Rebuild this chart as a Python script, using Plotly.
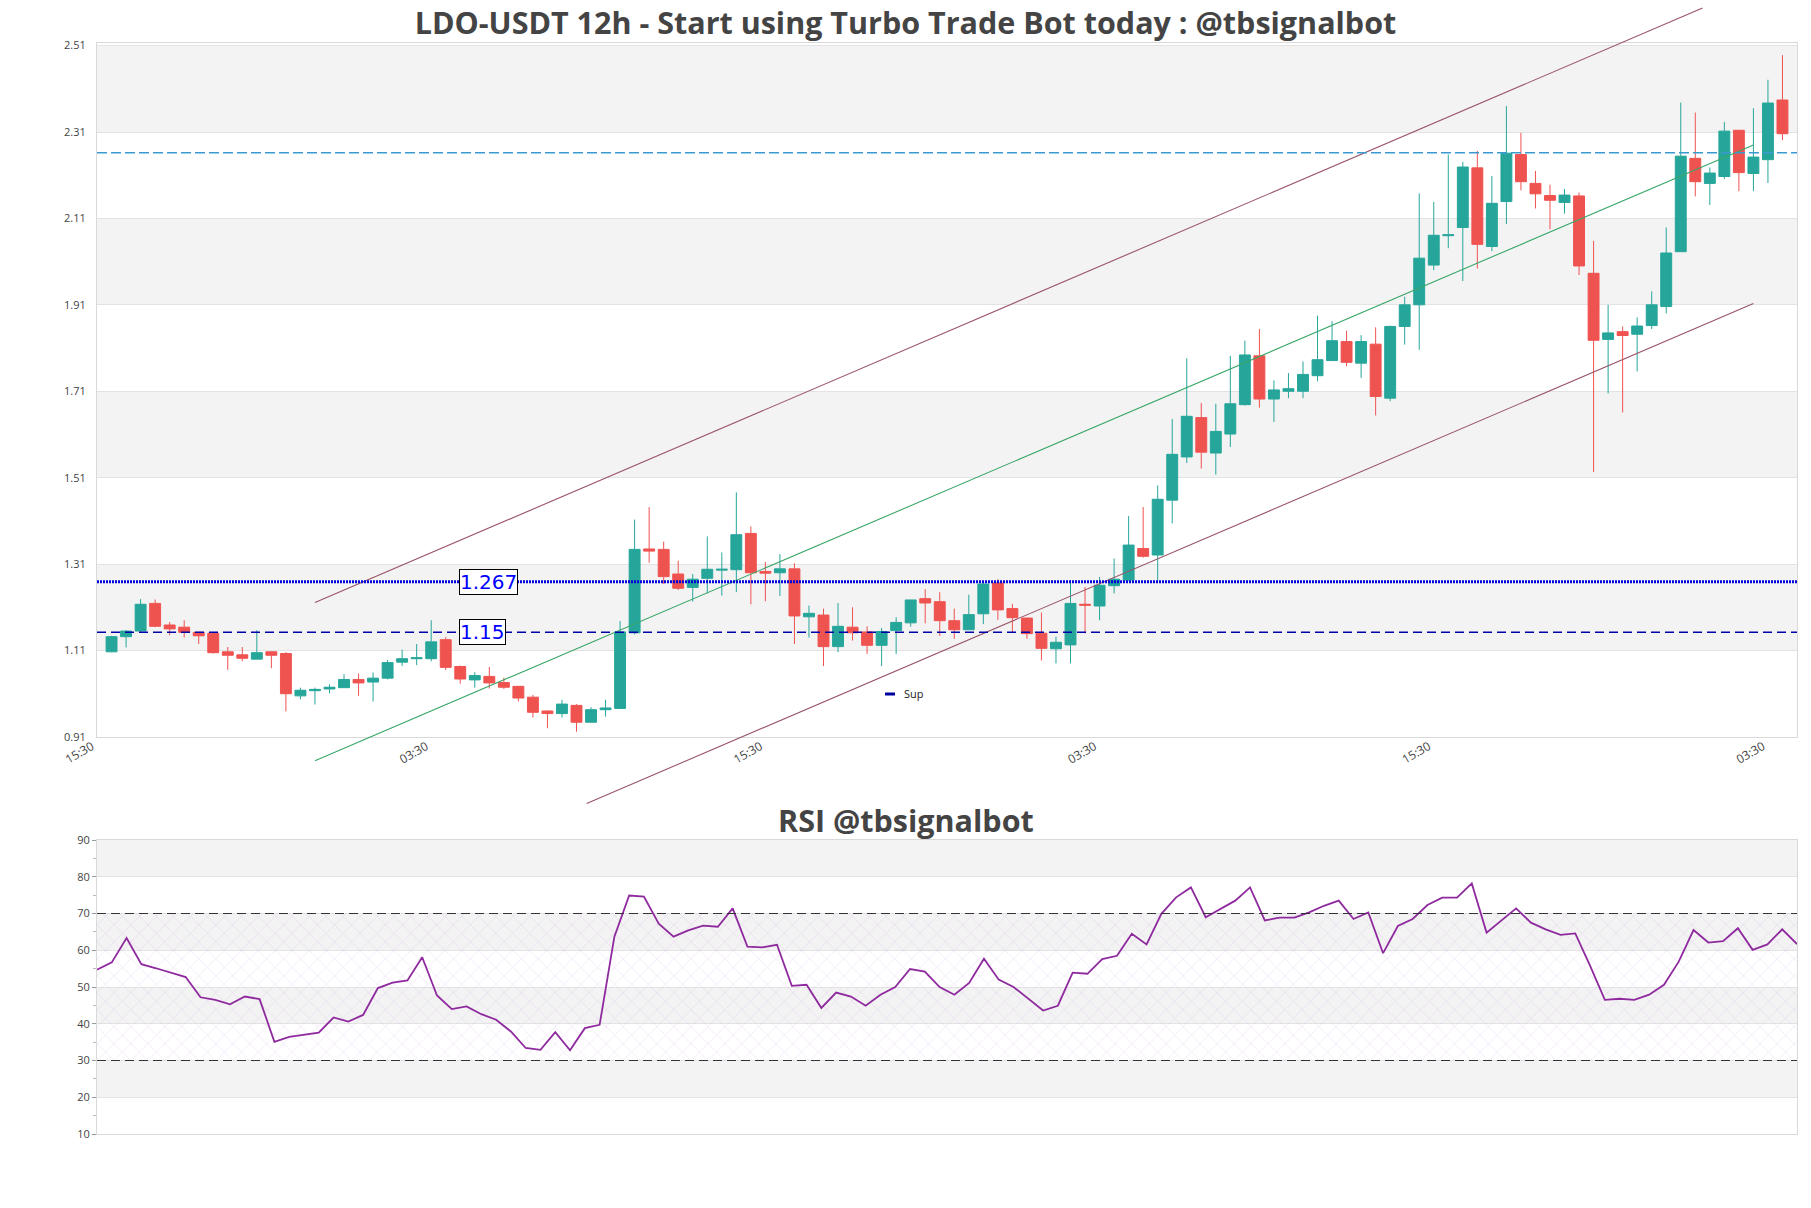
import pandas as pd
import plotly.graph_objects as go

# ---------------- data ----------------
start_time = pd.Timestamp("2022-12-15 03:30")
step = pd.Timedelta(hours=12)

opens = [1.105, 1.140, 1.153, 1.217, 1.167, 1.162, 1.150, 1.148, 1.105, 1.098,
         1.088, 1.105, 1.101, 1.003, 1.015, 1.019, 1.022, 1.041, 1.035, 1.044,
         1.081, 1.089, 1.089, 1.133, 1.071, 1.040, 1.048, 1.034, 1.025, 1.000,
         0.968, 0.962, 0.981, 0.942, 0.971, 0.974, 1.149, 1.343, 1.342, 1.285,
         1.254, 1.275, 1.294, 1.295, 1.379, 1.291, 1.288, 1.297, 1.186, 1.190,
         1.117, 1.162, 1.151, 1.120, 1.154, 1.172, 1.228, 1.221, 1.177, 1.156,
         1.193, 1.264, 1.205, 1.183, 1.148, 1.112, 1.121, 1.215, 1.211, 1.258,
         1.271, 1.344, 1.329, 1.456, 1.556, 1.647, 1.565, 1.609, 1.677, 1.790,
         1.690, 1.708, 1.708, 1.744, 1.779, 1.823, 1.773, 1.817, 1.692, 1.858,
         1.908, 2.000, 2.068, 2.087, 2.225, 2.043, 2.147, 2.256, 2.189, 2.161,
         2.145, 2.160, 1.981, 1.828, 1.846, 1.840, 1.860, 1.904, 2.031, 2.247,
         2.189, 2.205, 2.312, 2.212, 2.244, 2.382]
highs = [1.142, 1.155, 1.227, 1.226, 1.174, 1.178, 1.151, 1.150, 1.116, 1.116,
         1.155, 1.106, 1.104, 1.022, 1.022, 1.030, 1.053, 1.055, 1.057, 1.086,
         1.110, 1.123, 1.178, 1.139, 1.073, 1.058, 1.070, 1.045, 1.026, 1.005,
         0.969, 0.994, 0.984, 0.977, 0.994, 1.176, 1.411, 1.440, 1.360, 1.316,
         1.285, 1.372, 1.335, 1.474, 1.395, 1.313, 1.331, 1.310, 1.212, 1.205,
         1.218, 1.208, 1.164, 1.160, 1.185, 1.225, 1.250, 1.243, 1.205, 1.237,
         1.267, 1.273, 1.216, 1.184, 1.196, 1.140, 1.271, 1.255, 1.278, 1.321,
         1.419, 1.440, 1.490, 1.644, 1.784, 1.681, 1.679, 1.790, 1.825, 1.852,
         1.733, 1.750, 1.777, 1.883, 1.870, 1.848, 1.838, 1.856, 1.860, 1.927,
         2.166, 2.146, 2.256, 2.239, 2.264, 2.206, 2.368, 2.306, 2.218, 2.186,
         2.176, 2.168, 2.056, 1.908, 1.858, 1.879, 1.939, 2.087, 2.376, 2.353,
         2.226, 2.331, 2.312, 2.363, 2.429, 2.486]
lows = [1.104, 1.115, 1.151, 1.162, 1.143, 1.138, 1.123, 1.101, 1.063, 1.083,
        1.088, 1.067, 0.967, 0.995, 0.983, 1.009, 1.022, 1.003, 0.990, 1.041,
        1.072, 1.074, 1.083, 1.063, 1.031, 1.022, 1.020, 1.019, 0.990, 0.953,
        0.928, 0.953, 0.920, 0.942, 0.955, 0.974, 1.145, 1.311, 1.262, 1.248,
        1.221, 1.240, 1.235, 1.243, 1.215, 1.222, 1.234, 1.123, 1.138, 1.072,
        1.104, 1.131, 1.100, 1.072, 1.100, 1.163, 1.171, 1.142, 1.135, 1.156,
        1.169, 1.179, 1.150, 1.135, 1.085, 1.078, 1.078, 1.148, 1.178, 1.240,
        1.270, 1.323, 1.270, 1.402, 1.542, 1.529, 1.515, 1.579, 1.675, 1.670,
        1.637, 1.692, 1.692, 1.731, 1.779, 1.766, 1.739, 1.652, 1.685, 1.816,
        1.804, 1.988, 2.039, 1.963, 1.992, 2.032, 2.095, 2.173, 2.131, 2.083,
        2.119, 1.977, 1.521, 1.703, 1.659, 1.754, 1.852, 1.888, 2.031, 2.159,
        2.139, 2.199, 2.171, 2.171, 2.190, 2.289]
closes = [1.140, 1.153, 1.215, 1.164, 1.158, 1.150, 1.142, 1.103, 1.097, 1.090,
          1.103, 1.097, 1.008, 1.016, 1.018, 1.023, 1.041, 1.033, 1.044, 1.080,
          1.089, 1.091, 1.128, 1.069, 1.042, 1.050, 1.033, 1.023, 0.998, 0.965,
          0.962, 0.984, 0.942, 0.971, 0.975, 1.151, 1.342, 1.338, 1.279, 1.252,
          1.273, 1.296, 1.296, 1.376, 1.288, 1.287, 1.297, 1.188, 1.194, 1.117,
          1.164, 1.149, 1.120, 1.152, 1.173, 1.225, 1.218, 1.177, 1.156, 1.191,
          1.262, 1.202, 1.184, 1.147, 1.113, 1.127, 1.217, 1.213, 1.259, 1.273,
          1.352, 1.326, 1.458, 1.562, 1.650, 1.567, 1.615, 1.679, 1.792, 1.690,
          1.711, 1.714, 1.747, 1.781, 1.825, 1.775, 1.823, 1.696, 1.858, 1.908,
          2.016, 2.069, 2.070, 2.227, 2.048, 2.143, 2.259, 2.193, 2.165, 2.150,
          2.162, 1.998, 1.826, 1.843, 1.837, 1.859, 1.908, 2.028, 2.252, 2.193,
          2.213, 2.310, 2.214, 2.250, 2.375, 2.304]

rsi = [54.7, 56.7, 63.3, 56.2, 55.1, 53.8, 52.7, 47.2, 46.5, 45.3,
       47.4, 46.7, 35.1, 36.4, 36.9, 37.6, 41.7, 40.6, 42.4, 49.7,
       51.2, 51.8, 58.1, 47.7, 44.0, 44.7, 42.6, 41.1, 37.9, 33.4,
       32.9, 37.7, 32.8, 38.8, 39.7, 63.7, 74.9, 74.6, 67.2, 63.7,
       65.4, 66.7, 66.4, 71.4, 61.0, 60.8, 61.5, 50.3, 50.6, 44.3,
       48.5, 47.4, 44.9, 47.9, 50.0, 54.9, 54.2, 50.0, 47.9, 51.1,
       57.7, 52.0, 50.0, 46.7, 43.6, 44.9, 53.9, 53.6, 57.6, 58.5,
       64.5, 61.6, 69.9, 74.4, 77.1, 69.0, 71.2, 73.5, 77.1, 68.1,
       68.9, 68.9, 70.3, 72.1, 73.5, 68.5, 70.3, 59.2, 66.6, 68.5,
       72.3, 74.3, 74.3, 78.2, 64.8, 68.1, 71.4, 67.5, 65.7, 64.2,
       64.6, 55.8, 46.5, 46.8, 46.5, 47.9, 50.6, 56.9, 65.5, 62.1,
       62.5, 66.0, 60.1, 61.6, 65.7, 61.7]

# levels
resistance_level = 2.26
level_a = 1.267
level_b = 1.15
rsi_upper = 70
rsi_lower = 30

# trend channel (candle index, price)
chan_upper_idx = [14, 109.5]
chan_upper_val = [1.219, 2.595]
chan_mid_idx = [14, 113]
chan_mid_val = [0.853, 2.278]
chan_low_idx = [32.7, 113]
chan_low_val = [0.754, 1.911]

# axis ticks
price_tick_start = 0.908
price_tick_step = 0.2
price_tick_count = 9
x_tick_idx = [-1, 22, 45, 68, 91, 114]
rsi_ticks = [10, 20, 30, 40, 50, 60, 70, 80, 90]

# ---------------- helpers ----------------
n = len(opens)


def t(i):
    return start_time + step * i


dates = [t(i) for i in range(n)]

W, H = 1811, 1208
ML, MR, MT, MB = 97, 14, 0, 74
PH = H - MT - MB
PW = W - ML - MR


def py(fy):
    return (H - MB - fy) / PH


main_dom = [py(737), py(43.3)]
rsi_dom = [0.0, py(840)]
ylo, yhi = 0.9078, 2.5133
ppu = (main_dom[1] - main_dom[0]) / (yhi - ylo)
ext_dom = [0.27, 1.0]
y3_range = [ylo - (main_dom[0] - ext_dom[0]) / ppu, yhi + (ext_dom[1] - main_dom[1]) / ppu]

price_ticks = [price_tick_start + price_tick_step * k for k in range(price_tick_count)]

GREEN = "#26a69a"
RED = "#ef5350"
FONT = "Open Sans, verdana, arial, sans-serif"

fig = go.Figure()

fig.add_trace(go.Candlestick(
    x=dates, open=opens, high=highs, low=lows, close=closes,
    increasing=dict(line=dict(color=GREEN, width=1), fillcolor=GREEN),
    decreasing=dict(line=dict(color=RED, width=1), fillcolor=RED),
    showlegend=False, xaxis="x", yaxis="y", name="LDO-USDT",
))

chan_color = "#9a5466"
for idx, val, col in [(chan_upper_idx, chan_upper_val, chan_color),
                      (chan_mid_idx, chan_mid_val, "#3aa66a"),
                      (chan_low_idx, chan_low_val, chan_color)]:
    fig.add_trace(go.Scatter(
        x=[t(i) for i in idx], y=val, mode="lines",
        line=dict(color=col, width=1.1), showlegend=False,
        hoverinfo="skip", xaxis="x", yaxis="y3",
    ))

# legend entry
fig.add_trace(go.Scatter(
    x=[None], y=[None], mode="lines", name="Sup",
    line=dict(color="rgb(0,0,160)", width=3, dash="0px,16px,10px,100px"),
    showlegend=True, xaxis="x", yaxis="y",
))

# RSI neutral-zone hatch
fig.add_trace(go.Scatter(
    x=[dates[0], dates[-1], dates[-1], dates[0], dates[0]],
    y=[rsi_lower, rsi_lower, rsi_upper, rsi_upper, rsi_lower],
    mode="lines", fill="toself", fillcolor="rgba(0,0,0,0)",
    fillpattern=dict(shape="x", fgcolor="rgba(185,130,225,0.6)",
                     bgcolor="rgba(0,0,0,0)", size=12, solidity=0.08),
    line=dict(width=0), showlegend=False, hoverinfo="skip",
    xaxis="x2", yaxis="y2",
))

fig.add_trace(go.Scatter(
    x=dates, y=rsi, mode="lines",
    line=dict(color="#8e2a9e", width=1.8), showlegend=False,
    xaxis="x2", yaxis="y2", name="RSI",
))

shapes = []
# alternating bands - price
for k in range(1, price_tick_count - 1, 2):
    shapes.append(dict(type="rect", xref="x domain", yref="y", x0=0, x1=1,
                       y0=price_ticks[k], y1=price_ticks[k + 1],
                       fillcolor="#f3f3f3", line=dict(width=0), layer="below"))
# alternating bands - rsi
for k in range(1, len(rsi_ticks) - 1, 2):
    shapes.append(dict(type="rect", xref="x2 domain", yref="y2", x0=0, x1=1,
                       y0=rsi_ticks[k], y1=rsi_ticks[k + 1],
                       fillcolor="#f3f3f3", line=dict(width=0), layer="below"))

# horizontal levels
shapes.append(dict(type="line", xref="x domain", yref="y", x0=0, x1=1,
                   y0=resistance_level, y1=resistance_level,
                   line=dict(color="#3a9ad0", width=1.3, dash="10px,4px")))
shapes.append(dict(type="line", xref="x domain", yref="y", x0=0, x1=1,
                   y0=level_a, y1=level_a,
                   line=dict(color="rgb(0,0,220)", width=3, dash="2px,1px")))
shapes.append(dict(type="line", xref="x domain", yref="y", x0=0, x1=1,
                   y0=level_b, y1=level_b,
                   line=dict(color="rgb(0,0,170)", width=1.5, dash="9px,5px")))
for lv in (rsi_upper, rsi_lower):
    shapes.append(dict(type="line", xref="x2 domain", yref="y2", x0=0, x1=1,
                       y0=lv, y1=lv,
                       line=dict(color="#333333", width=1.2, dash="9px,5px")))

annotations = []
for lv in (level_a, level_b):
    annotations.append(dict(
        x=t(24), y=lv, xref="x", yref="y", text=f"{lv:g}", showarrow=False,
        xanchor="left", yanchor="middle", xshift=-1,
        font=dict(family="DejaVu Sans", size=20, color="blue"),
        bgcolor="white", bordercolor="black", borderwidth=1, borderpad=0,
    ))
annotations.append(dict(
    x=(W / 2 - ML) / PW, y=py(820), xref="paper", yref="paper", text="<b>RSI @tbsignalbot</b>",
    showarrow=False, xanchor="center", yanchor="middle",
    font=dict(family=FONT, size=30.5, color="#444"),
))

axis_common = dict(showline=True, linecolor="#d9d9d9", linewidth=1, mirror=True,
                   zeroline=False)

fig.update_layout(
    width=W, height=H,
    margin=dict(l=ML, r=MR, t=MT, b=MB, autoexpand=False),
    paper_bgcolor="white", plot_bgcolor="rgba(0,0,0,0)",
    font=dict(family=FONT, color="#444", size=11),
    title=dict(text="<b>LDO-USDT 12h - Start using Turbo Trade Bot today : @tbsignalbot</b>",
               x=0.5, xanchor="center", y=1 - 23 / H, yanchor="middle",
               font=dict(family=FONT, size=30.5, color="#444")),
    boxgap=0.25, boxgroupgap=0,
    showlegend=True,
    legend=dict(x=(864 - ML) / PW, y=py(694), xanchor="left", yanchor="middle",
                bgcolor="rgba(0,0,0,0)", font=dict(size=11, color="#222")),
    xaxis=dict(domain=[0, 1], anchor="y", range=[t(-1.001), t(n)],
               rangeslider=dict(visible=False), showgrid=False,
               tickvals=[t(i) for i in x_tick_idx],
               ticktext=[t(i).strftime("%H:%M") for i in x_tick_idx],
               tickangle=-30, tickfont=dict(size=12), ticks="",
               ticklabelshift=-5, ticklabelstandoff=-3, **axis_common),
    yaxis=dict(domain=main_dom, anchor="x", range=[ylo, yhi],
               tickvals=price_ticks, ticktext=[f"{v:.2f}" for v in price_ticks],
               showgrid=True, gridcolor="#e3e3e3", gridwidth=1, ticks="",
               ticklabelstandoff=8, tickfont=dict(size=11), **axis_common),
    yaxis3=dict(domain=ext_dom, anchor="free", position=0, range=y3_range,
                visible=False, showgrid=False, zeroline=False),
    xaxis2=dict(domain=[0, 1], anchor="y2", range=[dates[0], dates[-1]],
                showticklabels=False, showgrid=False, ticks="", **axis_common),
    yaxis2=dict(domain=rsi_dom, anchor="x2", range=[10, 90],
                tickvals=rsi_ticks, showgrid=True, gridcolor="#e3e3e3",
                ticks="outside", ticklen=4, tickcolor="#999",
                minor=dict(ticks="outside", ticklen=3, dtick=5, tickcolor="#bbb", showgrid=False),
                tickfont=dict(size=11), **axis_common),
    shapes=shapes, annotations=annotations,
)

fig.write_html("out.html", config={"displayModeBar": False},
               post_script="document.body.style.margin='0';")
